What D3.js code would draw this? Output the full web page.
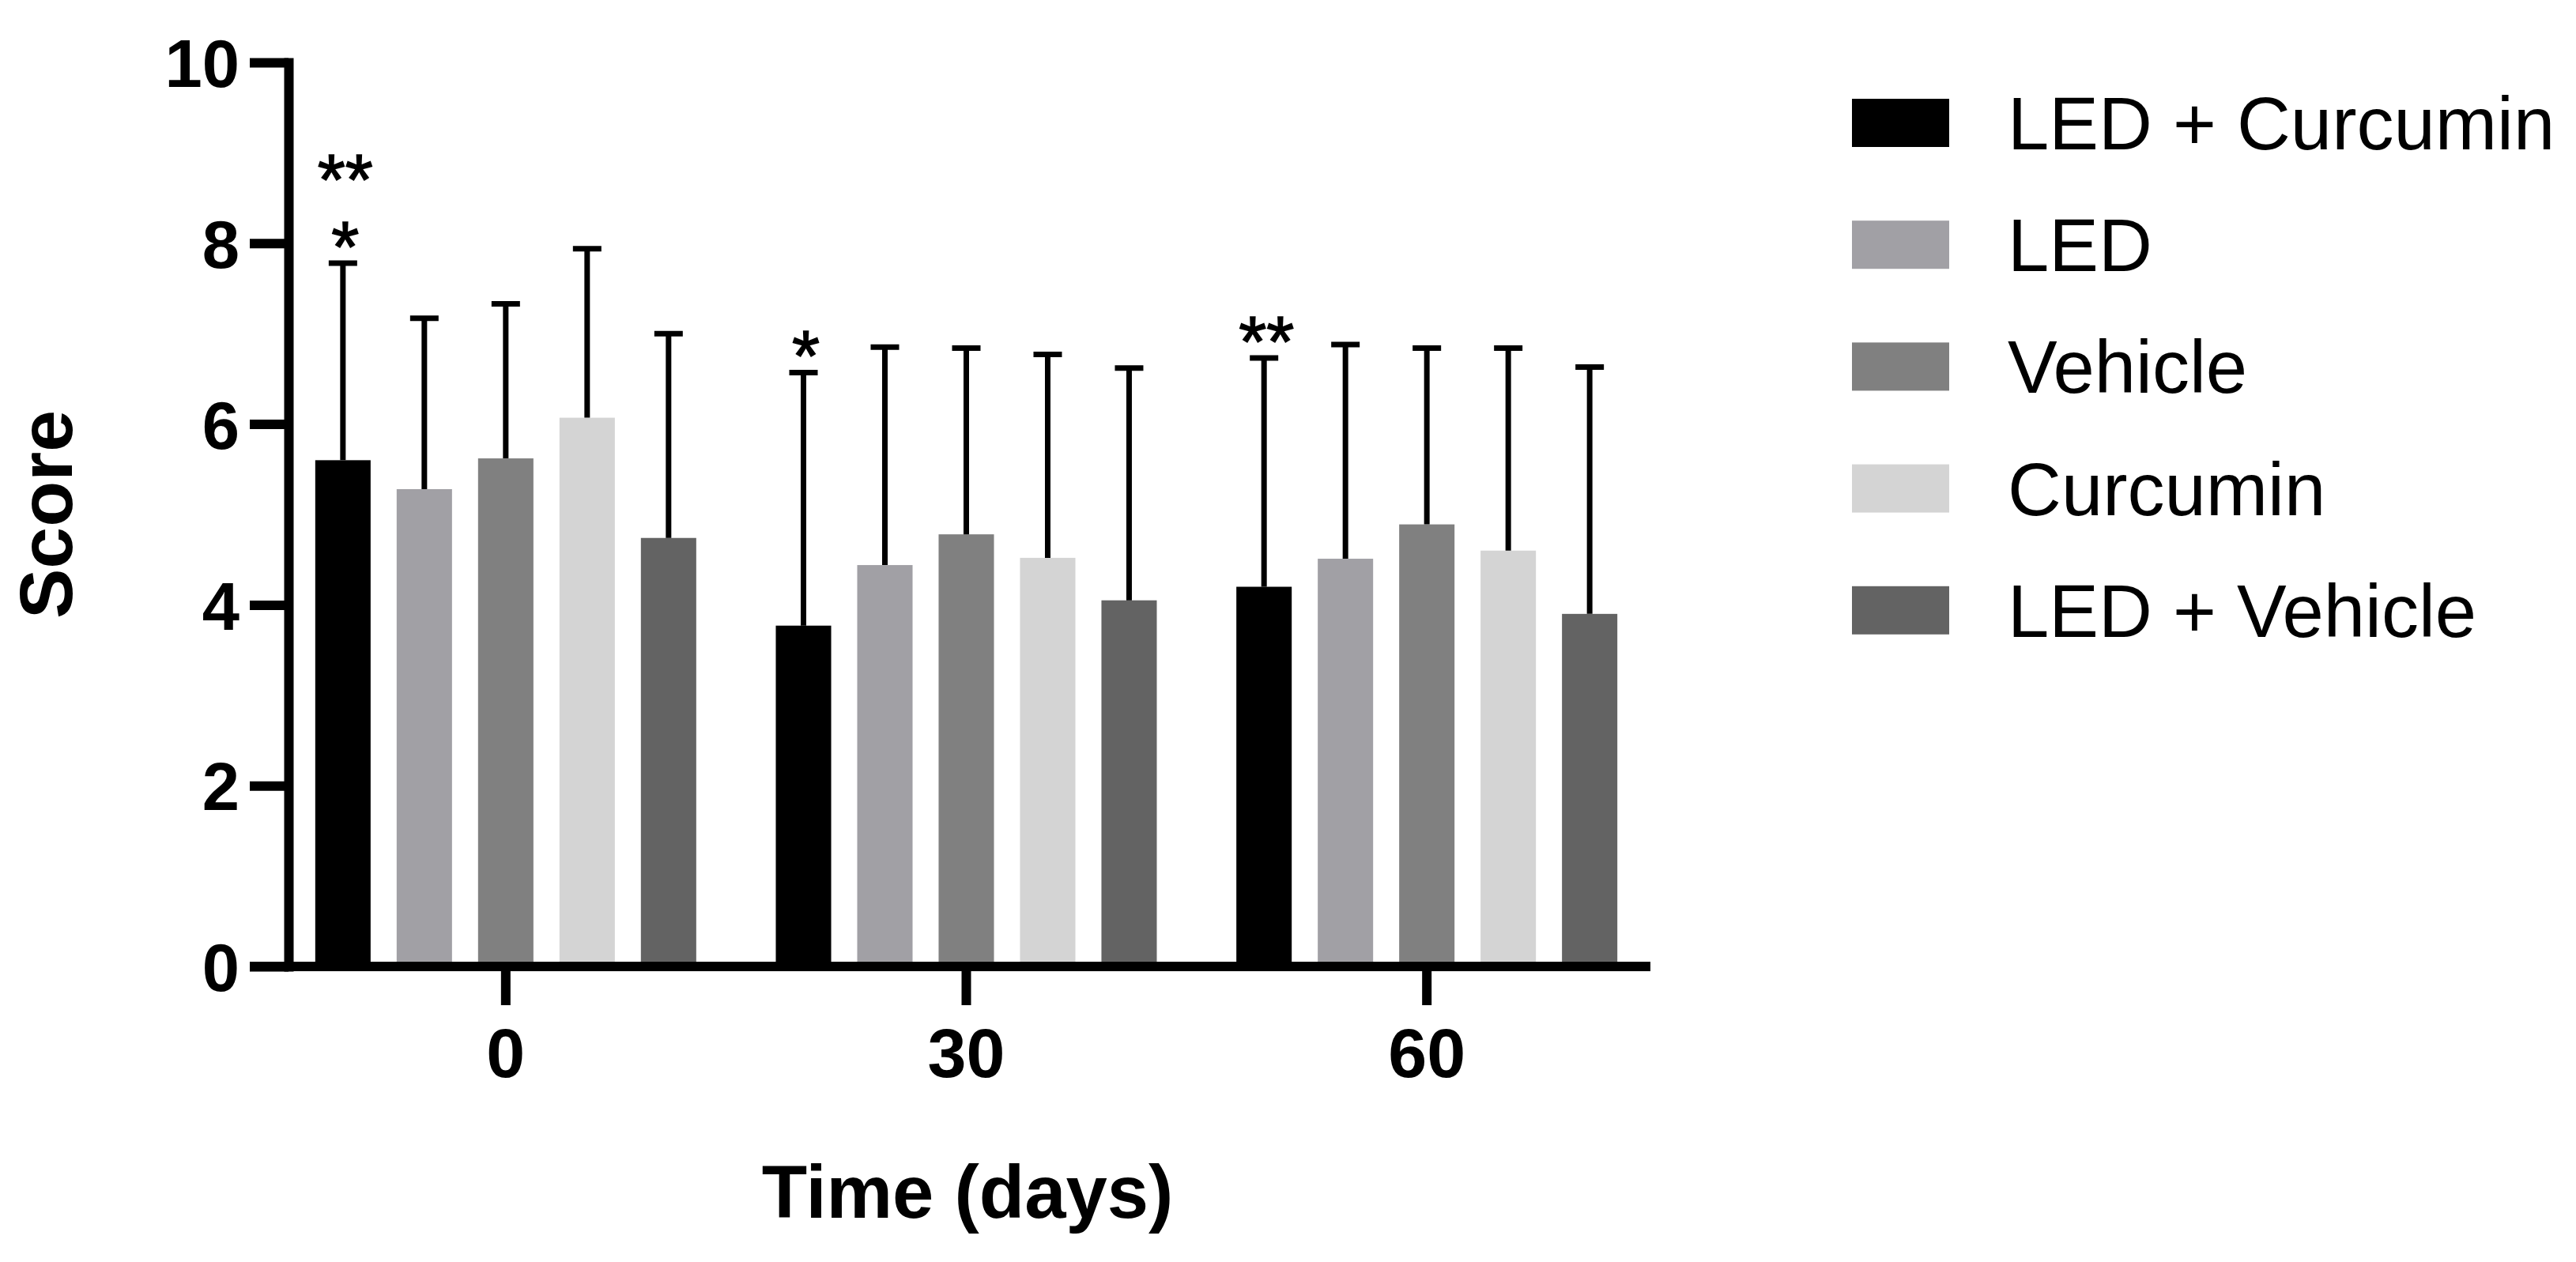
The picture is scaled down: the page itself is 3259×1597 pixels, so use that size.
<!DOCTYPE html>
<html>
<head>
<meta charset="utf-8">
<script src="https://cdn.jsdelivr.net/npm/d3@7"></script>
<style>
  body { margin: 0; background: #fff; }
  text { font-family: "Liberation Sans", Arial, Helvetica, sans-serif; }
</style>
</head>
<body>
<div id="chart"></div>
<script>
// time points (days) and treatment groups
var groups = ["0", "30", "60"];
var series = ["LED + Curcumin", "LED", "Vehicle", "Curcumin", "LED + Vehicle"];
var colors = ["#000000", "#a1a0a5", "#808080", "#d4d4d4", "#636363"];

// mean score per time point, one array per group
var ledCurcuminMean = [5.60, 3.77, 4.20];
var ledMean         = [5.28, 4.44, 4.51];
var vehicleMean     = [5.62, 4.78, 4.89];
var curcuminMean    = [6.07, 4.52, 4.60];
var ledVehicleMean  = [4.74, 4.05, 3.90];

// standard deviation (upper error bar only)
var ledCurcuminSD = [2.18, 2.80, 2.53];
var ledSD         = [1.89, 2.41, 2.37];
var vehicleSD     = [1.71, 2.06, 1.95];
var curcuminSD    = [1.87, 2.25, 2.24];
var ledVehicleSD  = [2.26, 2.57, 2.73];

var yTicks = [0, 2, 4, 6, 8, 10];

// significance marks: level 0 sits on the error bar, level 1 above it
var stars = [
  { group: "0",  series: "LED + Curcumin", text: "*",  level: 0 },
  { group: "0",  series: "LED + Curcumin", text: "**", level: 1 },
  { group: "30", series: "LED + Curcumin", text: "*",  level: 0 },
  { group: "60", series: "LED + Curcumin", text: "**", level: 0 }
];

var means = [ledCurcuminMean, ledMean, vehicleMean, curcuminMean, ledVehicleMean];
var sds = [ledCurcuminSD, ledSD, vehicleSD, curcuminSD, ledVehicleSD];

var data = [];
series.forEach(function (s, i) {
  groups.forEach(function (g, j) {
    data.push({ series: s, group: g, mean: means[i][j], sd: sds[i][j], color: colors[i] });
  });
});

// set the dimensions and margins of the graph
var W = 3259, H = 1597;
var margin = { top: 79, left: 365, bottom: 1223 };
var tickLen = 49;
var axisW = 12;

var svg = d3.select("#chart")
  .append("svg")
  .attr("width", W)
  .attr("height", H);

var y = d3.scaleLinear()
  .domain([0, 10])
  .range([margin.bottom, margin.top]);

var x0 = d3.scaleBand()
  .domain(groups)
  .range([348.5, 2096.5]);

var x1 = d3.scaleBand()
  .domain(series)
  .range([-241, 241])
  .paddingInner(0.32);

function barX(d) { return x0(d.group) + x0.bandwidth() / 2 + x1(d.series); }
function barC(d) { return barX(d) + x1.bandwidth() / 2; }

// bars
svg.append("g")
  .selectAll("rect")
  .data(data)
  .enter()
  .append("rect")
  .attr("x", barX)
  .attr("y", function (d) { return y(d.mean); })
  .attr("width", x1.bandwidth())
  .attr("height", function (d) { return y(0) - y(d.mean); })
  .attr("fill", function (d) { return d.color; });

// error bars (mean + SD)
var err = svg.append("g").attr("stroke", "#000").attr("stroke-width", 7);
err.selectAll("line.v")
  .data(data)
  .enter()
  .append("line")
  .attr("class", "v")
  .attr("x1", barC).attr("x2", barC)
  .attr("y1", function (d) { return y(d.mean); })
  .attr("y2", function (d) { return y(d.mean + d.sd); });
err.selectAll("line.cap")
  .data(data)
  .enter()
  .append("line")
  .attr("class", "cap")
  .attr("x1", function (d) { return barC(d) - 18; })
  .attr("x2", function (d) { return barC(d) + 18; })
  .attr("y1", function (d) { return y(d.mean + d.sd); })
  .attr("y2", function (d) { return y(d.mean + d.sd); });

// asterisks, one text per bar, stacked levels as tspans
var starGroups = d3.groups(stars, function (d) { return d.group + "|" + d.series; });
var starText = svg.append("g")
  .selectAll("text")
  .data(starGroups)
  .enter()
  .append("text")
  .attr("text-anchor", "middle")
  .attr("font-size", 90)
  .attr("stroke", "#000")
  .attr("stroke-width", 1.5);
starText.selectAll("tspan")
  .data(function (d) { return d[1]; })
  .enter()
  .append("tspan")
  .attr("x", function (d) {
    var row = data.find(function (r) { return r.group === d.group && r.series === d.series; });
    return barC(row) + 3;
  })
  .attr("y", function (d) {
    var row = data.find(function (r) { return r.group === d.group && r.series === d.series; });
    return y(row.mean + row.sd) + 11 - d.level * 85;
  })
  .text(function (d) { return d.text; });

// y axis
var yAxis = svg.append("g")
  .attr("transform", "translate(" + margin.left + ",0)")
  .call(d3.axisLeft(y).tickValues(yTicks).tickSize(tickLen).tickSizeOuter(0).tickFormat(d3.format("d")));
yAxis.select(".domain").attr("stroke-width", axisW).attr("stroke-linecap", "square");
yAxis.selectAll(".tick line").attr("stroke-width", axisW);
yAxis.selectAll(".tick text")
  .attr("x", -62)
  .attr("dy", "0.36em")
  .attr("font-size", 85)
  .attr("font-weight", "bold")
  .attr("font-family", "Liberation Sans, Arial, sans-serif")
  .attr("fill", "#000");

// x axis
var xAxis = svg.append("g")
  .attr("transform", "translate(0," + margin.bottom + ")")
  .call(d3.axisBottom(x0).tickSize(tickLen).tickSizeOuter(0));
xAxis.select(".domain")
  .attr("d", "M" + (margin.left - tickLen) + ",0H2088")
  .attr("stroke-width", axisW);
xAxis.selectAll(".tick line").attr("stroke-width", axisW);
xAxis.selectAll(".tick text")
  .attr("y", 140)
  .attr("dy", 0)
  .attr("font-size", 88)
  .attr("font-weight", "bold")
  .attr("font-family", "Liberation Sans, Arial, sans-serif")
  .attr("fill", "#000");

// axis titles
svg.append("text")
  .attr("transform", "translate(91," + (margin.top + margin.bottom) / 2 + ") rotate(-90)")
  .attr("text-anchor", "middle")
  .attr("font-size", 95)
  .attr("font-weight", "bold")
  .text("Score");

svg.append("text")
  .attr("x", 1224)
  .attr("y", 1541)
  .attr("text-anchor", "middle")
  .attr("font-size", 94)
  .attr("font-weight", "bold")
  .text("Time (days)");

// legend
var legend = svg.append("g")
  .selectAll("g")
  .data(series)
  .enter()
  .append("g")
  .attr("transform", function (d, i) { return "translate(2343," + (156 + i * 154.2) + ")"; });
legend.append("rect")
  .attr("x", 0)
  .attr("y", -31)
  .attr("width", 123)
  .attr("height", 61)
  .attr("fill", function (d, i) { return colors[i]; });
legend.append("text")
  .attr("x", 197)
  .attr("y", 33)
  .attr("font-size", 94)
  .text(function (d) { return d; });
</script>
</body>
</html>
